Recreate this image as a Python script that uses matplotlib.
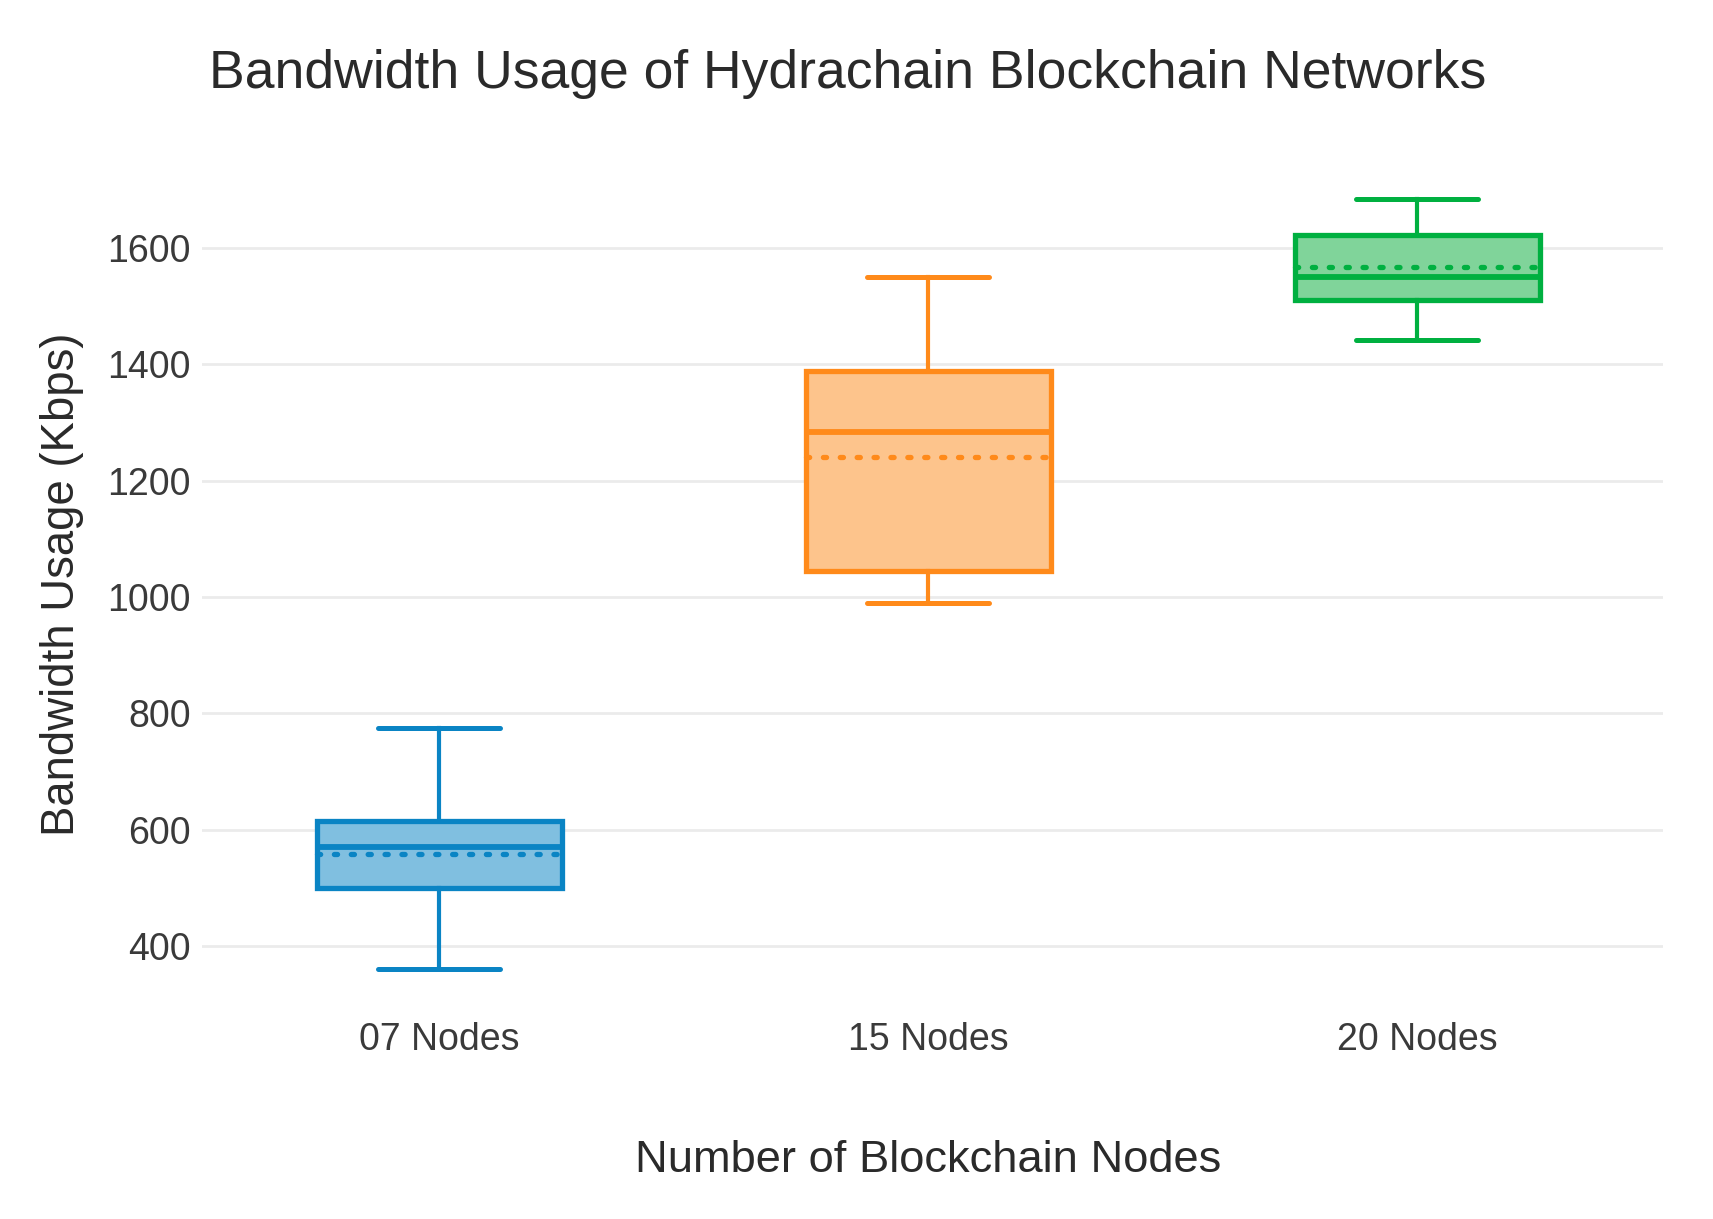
import matplotlib
matplotlib.use("Agg")
import matplotlib.pyplot as plt

categories = ["07 Nodes", "15 Nodes", "20 Nodes"]
whisker_low = [361, 990, 1442]
q1_values = [499, 1044, 1510]
medians = [570, 1284, 1551]
q3_values = [615, 1388, 1622]
whisker_high = [774, 1551, 1685]
means = [558, 1240, 1568]
yticks = [400, 600, 800, 1000, 1200, 1400, 1600]

line_colors = ["#0a84c4", "#ff8a1a", "#00b040"]
fill_colors = ["#80bfe0", "#fdc48c", "#80d49a"]

plt.rcParams['font.family'] = ['Liberation Sans', 'DejaVu Sans']
text_color = "#3a3a3a"

fig = plt.figure(figsize=(17.13, 12.19), dpi=100)
ax = fig.add_axes([0.118, 0.174, 0.853, 0.694])

for i in range(len(categories)):
    stats = [dict(med=medians[i], q1=q1_values[i], q3=q3_values[i],
                  whislo=whisker_low[i], whishi=whisker_high[i],
                  mean=means[i], fliers=[], label=categories[i])]
    c = line_colors[i]
    ax.bxp(stats, positions=[i], widths=0.5, patch_artist=True,
           showmeans=True, meanline=True, showfliers=False,
           boxprops=dict(facecolor=fill_colors[i], edgecolor=c, linewidth=3.8),
           whiskerprops=dict(color=c, linewidth=3.0),
           capprops=dict(color=c, linewidth=3.6, solid_capstyle='round'),
           capwidths=0.25,
           medianprops=dict(color=c, linewidth=4.2),
           meanprops=dict(color=c, linewidth=3.8, linestyle=(0, (0.6, 2.6)),
                          dash_capstyle='round'),
           zorder=3)

ax.set_xlim(-0.485, 2.503)
ax.set_ylim(295, 1750)
ax.set_xticks(range(len(categories)))
ax.set_xticklabels(categories)
ax.set_yticks(yticks)
ax.set_yticklabels([str(v) for v in yticks])
ax.grid(axis='y', color='#ebebeb', linewidth=2.0, zorder=0)
ax.grid(axis='x', visible=False)
ax.set_axisbelow(True)
for s in ax.spines.values():
    s.set_visible(False)
ax.tick_params(axis='both', length=0, labelsize=27, colors=text_color)
ax.tick_params(axis='x', pad=11)
ax.tick_params(axis='y', pad=8)

fig.text(0.495, 0.939, "Bandwidth Usage of Hydrachain Blockchain Networks",
         ha='center', va='center', fontsize=38.5, color="#2a2a2a")
fig.text(0.542, 0.048, "Number of Blockchain Nodes", ha='center', va='center',
         fontsize=32.6, color="#2a2a2a")
fig.text(0.036, 0.521, "Bandwidth Usage (Kbps)", ha='center', va='center',
         rotation=90, fontsize=32.8, color="#2a2a2a")

fig.savefig("out.png", dpi=100, facecolor='white')
